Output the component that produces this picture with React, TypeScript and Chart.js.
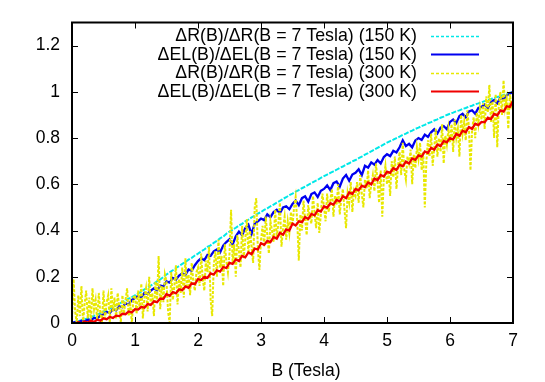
import { useEffect, useRef } from 'react';
import { Chart, registerables } from 'chart.js';

Chart.register(...registerables);

// Magnetic field values (Tesla) for the 0.05 T sampled series
const bField = [
  0, 0.05, 0.1, 0.15, 0.2, 0.25, 0.3, 0.35, 0.4, 0.45,
  0.5, 0.55, 0.6, 0.65, 0.7, 0.75, 0.8, 0.85, 0.9, 0.95,
  1, 1.05, 1.1, 1.15, 1.2, 1.25, 1.3, 1.35, 1.4, 1.45,
  1.5, 1.55, 1.6, 1.65, 1.7, 1.75, 1.8, 1.85, 1.9, 1.95,
  2, 2.05, 2.1, 2.15, 2.2, 2.25, 2.3, 2.35, 2.4, 2.45,
  2.5, 2.55, 2.6, 2.65, 2.7, 2.75, 2.8, 2.85, 2.9, 2.95,
  3, 3.05, 3.1, 3.15, 3.2, 3.25, 3.3, 3.35, 3.4, 3.45,
  3.5, 3.55, 3.6, 3.65, 3.7, 3.75, 3.8, 3.85, 3.9, 3.95,
  4, 4.05, 4.1, 4.15, 4.2, 4.25, 4.3, 4.35, 4.4, 4.45,
  4.5, 4.55, 4.6, 4.65, 4.7, 4.75, 4.8, 4.85, 4.9, 4.95,
  5, 5.05, 5.1, 5.15, 5.2, 5.25, 5.3, 5.35, 5.4, 5.45,
  5.5, 5.55, 5.6, 5.65, 5.7, 5.75, 5.8, 5.85, 5.9, 5.95,
  6, 6.05, 6.1, 6.15, 6.2, 6.25, 6.3, 6.35, 6.4, 6.45,
  6.5, 6.55, 6.6, 6.65, 6.7, 6.75, 6.8, 6.85, 6.9, 6.95,
  7,
];

// Magnetic field values (Tesla) for the 0.025 T sampled 300 K resistance series
const bFieldFine = [
  0, 0.025, 0.05, 0.075, 0.1, 0.125, 0.15, 0.175, 0.2, 0.225, 0.25, 0.275, 0.3, 0.325, 0.35, 0.375, 0.4, 0.425, 0.45, 0.475,
  0.5, 0.525, 0.55, 0.575, 0.6, 0.625, 0.65, 0.675, 0.7, 0.725, 0.75, 0.775, 0.8, 0.825, 0.85, 0.875, 0.9, 0.925, 0.95, 0.975,
  1, 1.025, 1.05, 1.075, 1.1, 1.125, 1.15, 1.175, 1.2, 1.225, 1.25, 1.275, 1.3, 1.325, 1.35, 1.375, 1.4, 1.425, 1.45, 1.475,
  1.5, 1.525, 1.55, 1.575, 1.6, 1.625, 1.65, 1.675, 1.7, 1.725, 1.75, 1.775, 1.8, 1.825, 1.85, 1.875, 1.9, 1.925, 1.95, 1.975,
  2, 2.025, 2.05, 2.075, 2.1, 2.125, 2.15, 2.175, 2.2, 2.225, 2.25, 2.275, 2.3, 2.325, 2.35, 2.375, 2.4, 2.425, 2.45, 2.475,
  2.5, 2.525, 2.55, 2.575, 2.6, 2.625, 2.65, 2.675, 2.7, 2.725, 2.75, 2.775, 2.8, 2.825, 2.85, 2.875, 2.9, 2.925, 2.95, 2.975,
  3, 3.025, 3.05, 3.075, 3.1, 3.125, 3.15, 3.175, 3.2, 3.225, 3.25, 3.275, 3.3, 3.325, 3.35, 3.375, 3.4, 3.425, 3.45, 3.475,
  3.5, 3.525, 3.55, 3.575, 3.6, 3.625, 3.65, 3.675, 3.7, 3.725, 3.75, 3.775, 3.8, 3.825, 3.85, 3.875, 3.9, 3.925, 3.95, 3.975,
  4, 4.025, 4.05, 4.075, 4.1, 4.125, 4.15, 4.175, 4.2, 4.225, 4.25, 4.275, 4.3, 4.325, 4.35, 4.375, 4.4, 4.425, 4.45, 4.475,
  4.5, 4.525, 4.55, 4.575, 4.6, 4.625, 4.65, 4.675, 4.7, 4.725, 4.75, 4.775, 4.8, 4.825, 4.85, 4.875, 4.9, 4.925, 4.95, 4.975,
  5, 5.025, 5.05, 5.075, 5.1, 5.125, 5.15, 5.175, 5.2, 5.225, 5.25, 5.275, 5.3, 5.325, 5.35, 5.375, 5.4, 5.425, 5.45, 5.475,
  5.5, 5.525, 5.55, 5.575, 5.6, 5.625, 5.65, 5.675, 5.7, 5.725, 5.75, 5.775, 5.8, 5.825, 5.85, 5.875, 5.9, 5.925, 5.95, 5.975,
  6, 6.025, 6.05, 6.075, 6.1, 6.125, 6.15, 6.175, 6.2, 6.225, 6.25, 6.275, 6.3, 6.325, 6.35, 6.375, 6.4, 6.425, 6.45, 6.475,
  6.5, 6.525, 6.55, 6.575, 6.6, 6.625, 6.65, 6.675, 6.7, 6.725, 6.75, 6.775, 6.8, 6.825, 6.85, 6.875, 6.9, 6.925, 6.95, 6.975,
  7,
];

const xTickValues = [0, 1, 2, 3, 4, 5, 6, 7];
const yTickValues = [0, 0.2, 0.4, 0.6, 0.8, 1, 1.2];
const xAxisTitle = 'B (Tesla)';

const seriesLabels = [
  'ΔR(B)/ΔR(B = 7 Tesla) (150 K)',
  'ΔEL(B)/ΔEL(B = 7 Tesla) (150 K)',
  'ΔR(B)/ΔR(B = 7 Tesla) (300 K)',
  'ΔEL(B)/ΔEL(B = 7 Tesla) (300 K)',
];

// ΔR(B)/ΔR(7 T), 150 K
const dR150 = [
  0.000, 0.004, 0.008, 0.012, 0.016, 0.020, 0.026, 0.031, 0.037, 0.043, 0.050,
  0.056, 0.063, 0.069, 0.077, 0.083, 0.091, 0.097, 0.105, 0.112, 0.120,
  0.128, 0.136, 0.145, 0.152, 0.162, 0.170, 0.180, 0.188, 0.199, 0.210,
  0.219, 0.228, 0.238, 0.246, 0.256, 0.264, 0.274, 0.282, 0.292, 0.300,
  0.310, 0.318, 0.329, 0.336, 0.347, 0.355, 0.366, 0.374, 0.386, 0.395,
  0.404, 0.412, 0.422, 0.429, 0.440, 0.447, 0.457, 0.464, 0.473, 0.480,
  0.489, 0.496, 0.505, 0.512, 0.521, 0.528, 0.537, 0.544, 0.553, 0.560,
  0.568, 0.575, 0.583, 0.590, 0.598, 0.605, 0.613, 0.619, 0.628, 0.635,
  0.642, 0.649, 0.656, 0.663, 0.671, 0.677, 0.685, 0.691, 0.699, 0.705,
  0.713, 0.720, 0.728, 0.735, 0.743, 0.750, 0.758, 0.765, 0.773, 0.780,
  0.787, 0.793, 0.800, 0.806, 0.814, 0.819, 0.827, 0.832, 0.840, 0.845,
  0.852, 0.857, 0.864, 0.869, 0.876, 0.881, 0.888, 0.893, 0.900, 0.905,
  0.910, 0.916, 0.920, 0.926, 0.930, 0.936, 0.940, 0.946, 0.950, 0.955,
  0.960, 0.964, 0.969, 0.973, 0.978, 0.982, 0.987, 0.991, 0.996, 1.000,
];

// ΔEL(B)/ΔEL(7 T), 150 K
const dEL150 = [
  0.000, 0.005, 0.002, 0.010, 0.006, 0.015, 0.012, 0.022, 0.020, 0.032, 0.038,
  0.048, 0.044, 0.060, 0.055, 0.072, 0.068, 0.085, 0.080, 0.100, 0.108,
  0.118, 0.112, 0.130, 0.125, 0.140, 0.150, 0.142, 0.162, 0.158, 0.180,
  0.175, 0.195, 0.188, 0.205, 0.215, 0.208, 0.232, 0.226, 0.250, 0.268,
  0.280, 0.272, 0.295, 0.290, 0.310, 0.318, 0.305, 0.335, 0.350, 0.362,
  0.340, 0.375, 0.395, 0.380, 0.410, 0.425, 0.385, 0.430, 0.440, 0.452,
  0.445, 0.470, 0.458, 0.480, 0.490, 0.475, 0.500, 0.505, 0.492, 0.515,
  0.530, 0.510, 0.540, 0.548, 0.525, 0.558, 0.565, 0.545, 0.572, 0.580,
  0.595, 0.575, 0.605, 0.612, 0.590, 0.625, 0.640, 0.615, 0.642, 0.650,
  0.665, 0.640, 0.680, 0.672, 0.695, 0.685, 0.705, 0.690, 0.718, 0.730,
  0.722, 0.745, 0.738, 0.760, 0.790, 0.765, 0.775, 0.760, 0.790, 0.800,
  0.792, 0.815, 0.805, 0.825, 0.838, 0.820, 0.845, 0.852, 0.838, 0.870,
  0.880, 0.865, 0.895, 0.905, 0.890, 0.915, 0.920, 0.905, 0.930, 0.935,
  0.945, 0.930, 0.955, 0.965, 0.950, 0.975, 0.968, 0.985, 0.992, 1.000,
];

// ΔR(B)/ΔR(7 T), 300 K (0.025 T steps)
const dR300 = [
  0.02, 0.19, 0.05, 0.00, 0.12, 0.03, 0.16, 0.00, 0.08, 0.14, 0.02, 0.11, 0.00, 0.15, 0.06, 0.10, 0.01, 0.13, 0.04, 0.00,
  0.14, 0.02, 0.09, 0.12, 0.00, 0.15, 0.05, 0.11, 0.02, 0.13, 0.07, 0.00, 0.12, 0.04, 0.10, 0.15, 0.03, 0.08, 0.00, 0.11,
  0.12, 0.04, 0.14, 0.06, 0.17, 0.02, 0.11, 0.15, 0.05, 0.20, 0.08, 0.13, 0.03, 0.18, 0.10, 0.29, 0.06, 0.16, 0.09, 0.21,
  0.18, 0.05, 0.00, 0.22, 0.10, 0.16, 0.25, 0.08, 0.19, 0.13, 0.24, 0.11, 0.28, 0.15, 0.21, 0.12, 0.26, 0.18, 0.14, 0.22,
  0.24, 0.16, 0.30, 0.19, 0.14, 0.27, 0.22, 0.33, 0.10, 0.03, 0.25, 0.31, 0.20, 0.36, 0.24, 0.29, 0.16, 0.34, 0.27, 0.22,
  0.30, 0.49, 0.26, 0.34, 0.20, 0.38, 0.31, 0.24, 0.42, 0.28, 0.36, 0.45, 0.30, 0.40, 0.33, 0.26, 0.50, 0.54, 0.32, 0.23,
  0.36, 0.42, 0.33, 0.46, 0.38, 0.30, 0.44, 0.40, 0.35, 0.49, 0.37, 0.43, 0.52, 0.33, 0.41, 0.46, 0.36, 0.44, 0.39, 0.48,
  0.42, 0.50, 0.545, 0.44, 0.27, 0.47, 0.40, 0.53, 0.45, 0.38, 0.51, 0.46, 0.43, 0.55, 0.48, 0.41, 0.52, 0.39, 0.47, 0.56,
  0.50, 0.44, 0.56, 0.48, 0.53, 0.58, 0.46, 0.55, 0.51, 0.60, 0.47, 0.54, 0.58, 0.49, 0.41, 0.56, 0.52, 0.61, 0.48, 0.57,
  0.55, 0.61, 0.52, 0.64, 0.56, 0.50, 0.62, 0.58, 0.66, 0.54, 0.60, 0.64, 0.57, 0.69, 0.61, 0.52, 0.66, 0.46, 0.63, 0.68,
  0.60, 0.66, 0.55, 0.70, 0.63, 0.72, 0.58, 0.68, 0.74, 0.64, 0.78, 0.66, 0.62, 0.72, 0.69, 0.75, 0.60, 0.73, 0.67, 0.76,
  0.71, 0.78, 0.66, 0.74, 0.50, 0.70, 0.79, 0.72, 0.82, 0.68, 0.76, 0.84, 0.72, 0.80, 0.74, 0.86, 0.69, 0.81, 0.77, 0.84,
  0.78, 0.86, 0.74, 0.88, 0.80, 0.84, 0.72, 0.90, 0.82, 0.87, 0.79, 0.92, 0.85, 0.66, 0.83, 0.89, 0.80, 0.91, 0.86, 0.93,
  0.88, 0.95, 0.84, 0.98, 0.91, 1.03, 0.87, 0.96, 0.80, 0.99, 0.76, 0.94, 1.00, 0.90, 1.05, 0.93, 0.97, 0.84, 0.99, 0.94,
  0.96,
];

// ΔEL(B)/ΔEL(7 T), 300 K
const dEL300 = [
  0.000, -0.005, 0.004, -0.002, 0.006, 0.002, 0.010, 0.005, 0.014, 0.010, 0.020,
  0.016, 0.026, 0.022, 0.032, 0.030, 0.040, 0.038, 0.050, 0.046, 0.060,
  0.058, 0.070, 0.066, 0.082, 0.078, 0.094, 0.090, 0.106, 0.104, 0.125,
  0.118, 0.134, 0.128, 0.146, 0.142, 0.158, 0.152, 0.172, 0.168, 0.190,
  0.186, 0.200, 0.195, 0.215, 0.210, 0.228, 0.222, 0.242, 0.238, 0.260,
  0.256, 0.275, 0.268, 0.290, 0.284, 0.305, 0.298, 0.322, 0.318, 0.345,
  0.338, 0.355, 0.350, 0.372, 0.365, 0.390, 0.382, 0.405, 0.400, 0.430,
  0.422, 0.440, 0.436, 0.458, 0.450, 0.472, 0.466, 0.488, 0.482, 0.505,
  0.498, 0.518, 0.512, 0.532, 0.526, 0.548, 0.540, 0.565, 0.558, 0.580,
  0.574, 0.594, 0.588, 0.608, 0.600, 0.625, 0.618, 0.640, 0.634, 0.655,
  0.650, 0.670, 0.662, 0.685, 0.678, 0.698, 0.690, 0.712, 0.706, 0.725,
  0.720, 0.742, 0.735, 0.758, 0.750, 0.772, 0.765, 0.788, 0.782, 0.800,
  0.795, 0.818, 0.810, 0.832, 0.825, 0.848, 0.840, 0.862, 0.856, 0.870,
  0.868, 0.888, 0.882, 0.905, 0.898, 0.920, 0.915, 0.938, 0.935, 0.960,
];

const seriesValues = [dR150, dEL150, dR300, dEL300];
const seriesX = [bField, bField, bFieldFine, bField];
const seriesColors = ['#00e8e8', '#0000f0', '#e8e800', '#f00000'];
const seriesWidths = [2, 2.3, 2, 2.3];
const seriesDashes = [[5, 1.5], [], [3, 1.5], []];
const keyDashes = [[3, 2], [], [3, 2], []];
const keyWidths = [1.5, 2, 1.5, 2];
const seriesOrder = [3, 2, 1, 0];

const FONT = '"Liberation Sans", Arial, Helvetica, sans-serif';
const FONT_SIZE = 17.5;
const KEY_FONT_SIZE = 17.8;

const framePlugin = {
  id: 'gnuFrame',
  afterDatasetsDraw(chart: any) {
    const { ctx, chartArea: a, scales } = chart;
    ctx.save();
    ctx.strokeStyle = '#000';
    ctx.lineWidth = 1;
    ctx.setLineDash([]);
    const L = 6;
    ctx.beginPath();
    for (const v of xTickValues) {
      const x = Math.round(scales.x.getPixelForValue(v)) + 0.5;
      ctx.moveTo(x, a.bottom);
      ctx.lineTo(x, a.bottom - L);
      ctx.moveTo(x, a.top);
      ctx.lineTo(x, a.top + L);
    }
    for (const v of yTickValues) {
      const y = Math.round(scales.y.getPixelForValue(v)) + 0.5;
      ctx.moveTo(a.left, y);
      ctx.lineTo(a.left + L, y);
      ctx.moveTo(a.right, y);
      ctx.lineTo(a.right - L, y);
    }
    ctx.stroke();
    ctx.lineWidth = 2;
    ctx.strokeRect(a.left, a.top, a.right - a.left, a.bottom - a.top);

    // x axis title (offset to the right as in the original)
    ctx.fillStyle = '#000';
    ctx.font = `${FONT_SIZE}px ${FONT}`;
    ctx.textAlign = 'center';
    ctx.textBaseline = 'middle';
    ctx.fillText(xAxisTitle, 306, 371);

    // key (gnuplot style: right-aligned text, sample line on the right)
    const textRight = 417;
    const sampleL = 431;
    const sampleR = 479;
    const rowY0 = 35.5;
    const rowH = 18.5;
    ctx.font = `${KEY_FONT_SIZE}px ${FONT}`;
    ctx.textAlign = 'right';
    chart.data.datasets.forEach((ds: any, i: number) => {
      const y = rowY0 + i * rowH;
      ctx.fillStyle = '#000';
      ctx.fillText(ds.label, textRight, y + 1);
      ctx.strokeStyle = ds.borderColor;
      ctx.lineWidth = keyWidths[i];
      ctx.setLineDash(keyDashes[i]);
      ctx.beginPath();
      ctx.moveTo(sampleL, Math.round(y) + 0.5);
      ctx.lineTo(sampleR, Math.round(y) + 0.5);
      ctx.stroke();
    });
    ctx.restore();
  },
};

export default function App() {
  const canvasRef = useRef<HTMLCanvasElement | null>(null);

  useEffect(() => {
    if (!canvasRef.current) return;
    Chart.defaults.font.family = FONT;
    const datasets = seriesValues.map((vals, i) => ({
      label: seriesLabels[i],
      data: vals.map((v, j) => ({ x: seriesX[i][j], y: v })),
      borderColor: seriesColors[i],
      backgroundColor: seriesColors[i],
      borderWidth: seriesWidths[i],
      borderDash: seriesDashes[i],
      pointRadius: 0,
      fill: false,
      tension: 0,
      order: seriesOrder[i],
    }));
    const chart = new Chart(canvasRef.current, {
      type: 'line',
      data: { datasets },
      options: {
        responsive: false,
        animation: false,
        devicePixelRatio: 1,
        layout: { padding: { left: 0, right: 32, top: 22, bottom: 0 } },
        plugins: { legend: { display: false }, tooltip: { enabled: false } },
        scales: {
          x: {
            type: 'linear',
            min: 0,
            max: 7,
            grid: { display: false, drawTicks: false },
            border: { display: false },
            ticks: {
              padding: 8,
              color: '#000',
              font: { size: FONT_SIZE, family: FONT },
              autoSkip: false,
              maxRotation: 0,
              callback: (v: any) => String(v),
            },
            afterBuildTicks: (s: any) => {
              s.ticks = xTickValues.map((v) => ({ value: v }));
            },
            afterFit: (s: any) => {
              s.height = 59;
            },
            title: { display: false, text: xAxisTitle },
          },
          y: {
            type: 'linear',
            min: 0,
            max: 1.3,
            grid: { display: false, drawTicks: false },
            border: { display: false },
            ticks: {
              padding: 12,
              color: '#000',
              font: { size: FONT_SIZE, family: FONT },
              autoSkip: false,
              callback: (v: any) => String(parseFloat(Number(v).toFixed(1))),
            },
            afterBuildTicks: (s: any) => {
              s.ticks = yTickValues.map((v) => ({ value: v }));
            },
            afterFit: (s: any) => {
              s.width = 72;
            },
          },
        },
      },
      plugins: [framePlugin],
    } as any);
    return () => chart.destroy();
  }, []);

  return (
    <div style={{ position: 'fixed', left: 0, top: 0, width: 545, height: 382, background: '#fff' }}>
      <canvas ref={canvasRef} width={545} height={382} style={{ width: 545, height: 382, display: 'block' }} />
    </div>
  );
}
